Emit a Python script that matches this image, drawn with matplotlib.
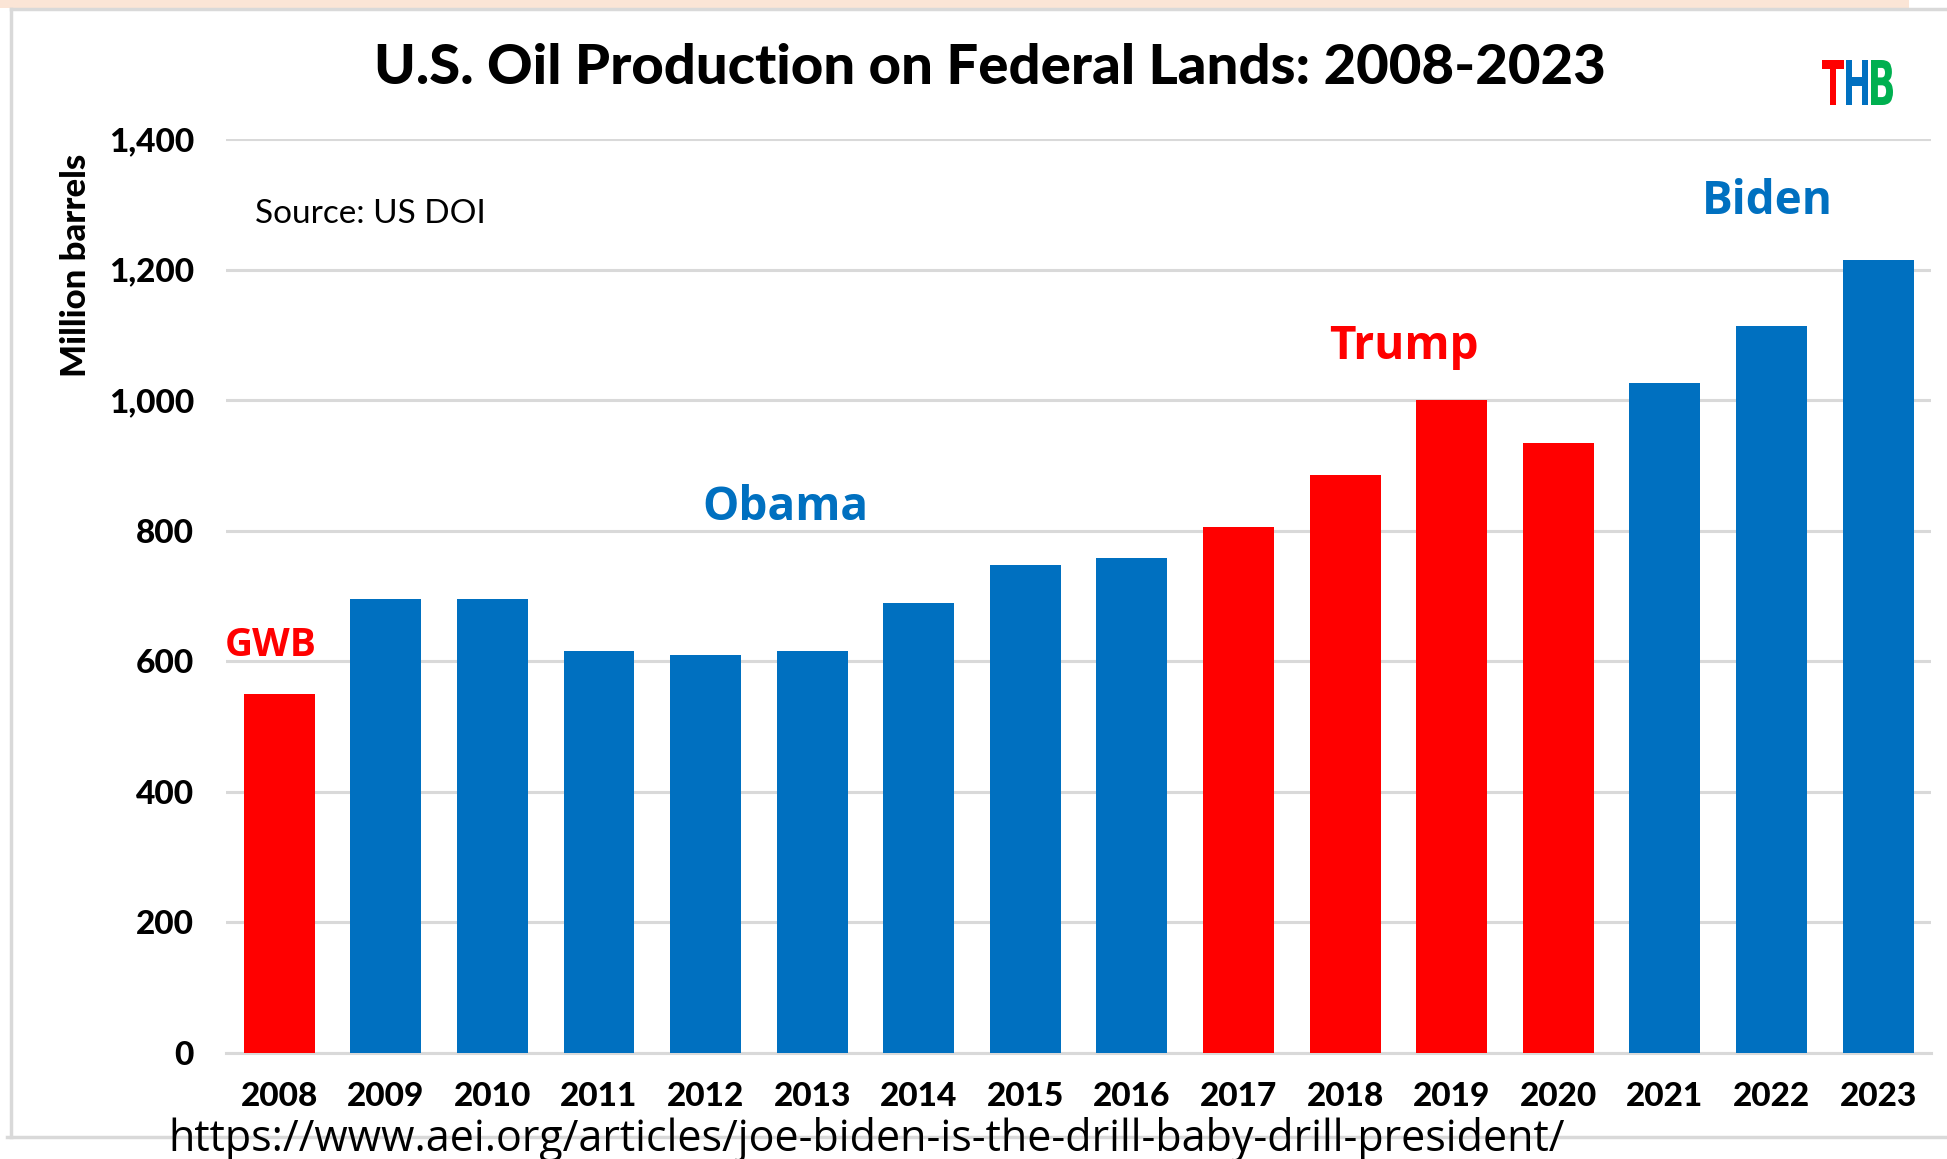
import matplotlib
matplotlib.use('Agg')
import matplotlib.pyplot as plt
from matplotlib.patches import Rectangle, PathPatch
from matplotlib.lines import Line2D
from matplotlib.textpath import TextPath
from matplotlib.font_manager import FontProperties
from matplotlib.transforms import Affine2D

# values (million barrels)
years = ['2008', '2009', '2010', '2011', '2012', '2013', '2014', '2015',
         '2016', '2017', '2018', '2019', '2020', '2021', '2022', '2023']
production = [550, 696, 696, 616, 609, 616, 690, 748,
              759, 805, 886, 1000, 934, 1027, 1113, 1214]
party = ['R', 'D', 'D', 'D', 'D', 'D', 'D', 'D',
         'D', 'R', 'R', 'R', 'R', 'D', 'D', 'D']
yticks = [0, 200, 400, 600, 800, 1000, 1200, 1400]

# president labels: text, x index, y value, party
presidents = ['GWB', 'Obama', 'Trump', 'Biden']
pres_x = [-0.08, 4.75, 10.55, 13.96]
pres_y = [624, 836, 1083, 1305]
pres_party = ['R', 'D', 'R', 'D']

RED = '#FF0000'
BLUE = '#0070C0'
GREEN = '#00B050'
GRID = '#D9D9D9'
colors = {'R': RED, 'D': BLUE}

fig = plt.figure(figsize=(19.47, 11.59), dpi=100)
ax = fig.add_axes([0.116, 0.0915, 0.876, 0.7885])

x = range(len(years))
ax.bar(x, production, width=0.665, color=[colors[p] for p in party], zorder=3)

ax.set_xlim(-0.5, len(years) - 0.5)
ax.set_ylim(0, 1400)
ax.set_yticks(yticks)
ax.set_yticklabels(['{:,}'.format(v) for v in yticks])
ax.set_xticks(list(x))
ax.set_xticklabels(years)
ax.yaxis.grid(True, color=GRID, linewidth=2.2, zorder=0)
ax.tick_params(length=0)
ax.tick_params(axis='y', pad=23, labelsize=24)
ax.tick_params(axis='x', pad=21, labelsize=24)
for lbl in ax.get_xticklabels() + ax.get_yticklabels():
    lbl.set_family('Lato')
    lbl.set_fontweight('black')
for s in ['top', 'right', 'left']:
    ax.spines[s].set_visible(False)
ax.spines['bottom'].set_color(GRID)
ax.spines['bottom'].set_linewidth(2.2)

for name, px, py, pp in zip(presidents, pres_x, pres_y, pres_party):
    size = 28 if name == 'GWB' else 33
    ax.text(px, py, name, color=colors[pp], fontsize=size, fontweight='bold',
            family='Open Sans', ha='center', va='center', zorder=4)

fig.text(0.5085, 0.941, 'U.S. Oil Production on Federal Lands: 2008-2023',
         ha='center', va='center', fontsize=40.5, fontweight='black', family='Lato')
fig.text(0.131, 0.815, 'Source: US DOI', ha='left', va='center',
         fontsize=24, family='Lato')
fig.text(0.039, 0.771, 'Million barrels', rotation=90, ha='center', va='center',
         fontsize=25, fontweight='black', family='Lato')

# THB logo, squeezed letters drawn as paths (pixel boxes from the picture)
fp = FontProperties(family='DejaVu Sans', weight='bold')
logo_letters = ['T', 'H', 'B']
logo_left = [1822, 1846, 1871]
logo_colors = [RED, BLUE, GREEN]
for ch, x0, c in zip(logo_letters, logo_left, logo_colors):
    tp = TextPath((0, 0), ch, size=1, prop=fp)
    ext = tp.get_extents()
    tr = (Affine2D().translate(-ext.x0, -ext.y0)
          .scale(22 / ext.width, 45 / ext.height)
          .translate(x0, 1159 - 105).scale(1 / 100.0))
    fig.patches.append(PathPatch(tr.transform_path(tp), transform=fig.dpi_scale_trans,
                                 facecolor=c, edgecolor='none'))

# frame around the picture
fig.patches.append(Rectangle((0, 0.9935), 0.9805, 0.0065, transform=fig.transFigure,
                             facecolor='#FBE5D6', edgecolor='none'))
fig.lines.append(Line2D([0.0057, 1], [0.9925, 0.9925], transform=fig.transFigure,
                        color=GRID, linewidth=2.5))
fig.lines.append(Line2D([0.0057, 0.0057], [0.9925, 0.019], transform=fig.transFigure,
                        color=GRID, linewidth=2.5))
fig.lines.append(Line2D([0.0036, 1], [0.019, 0.019], transform=fig.transFigure,
                        color=GRID, linewidth=2.5))

fig.text(0.0865, 0.017, 'https://www.aei.org/articles/joe-biden-is-the-drill-baby-drill-president/',
         ha='left', va='center', fontsize=31, family='Open Sans')

fig.savefig('out.png', dpi=100)
